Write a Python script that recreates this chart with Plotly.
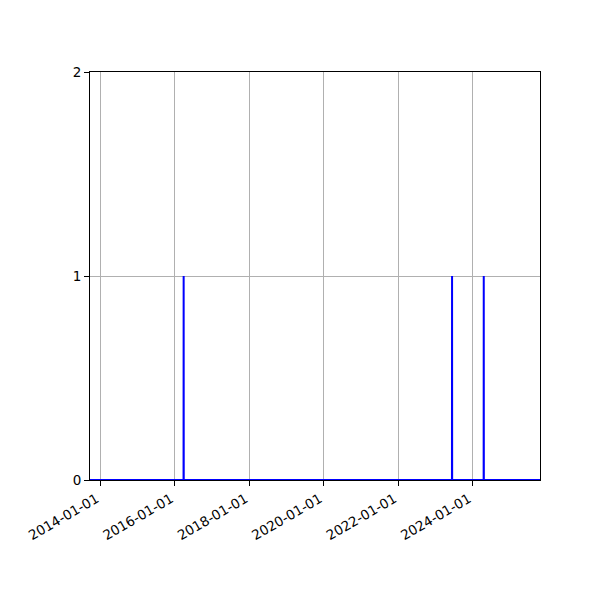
import plotly.graph_objects as go

# daily event counts (only the dates where the count changes are listed)
dates = [
    "2013-09-19", "2016-03-25", "2016-03-26", "2016-03-27",
    "2023-06-11", "2023-06-12", "2023-06-13",
    "2024-04-17", "2024-04-18", "2024-04-19", "2025-10-22",
]
counts = [0, 0, 1, 0, 0, 1, 0, 0, 1, 0, 0]

tick_dates = ["2014-01-01", "2016-01-01", "2018-01-01", "2020-01-01", "2022-01-01", "2024-01-01"]
y_ticks = [0, 1, 2]


def main():
    fig = go.Figure()

    fig.add_trace(go.Scatter(
        x=dates,
        y=counts,
        mode="lines",
        line=dict(color="#0000ff", width=2),
        showlegend=False,
    ))

    axis_common = dict(
        showline=True,
        linecolor="black",
        linewidth=1,
        mirror=True,
        ticks="outside",
        ticklen=5,
        tickcolor="black",
        showgrid=True,
        gridcolor="#b0b0b0",
        gridwidth=1,
        zeroline=False,
        tickfont=dict(family="DejaVu Sans", size=13.5, color="black"),
    )

    fig.update_xaxes(
        type="date",
        range=["2013-09-19", "2025-10-22"],
        tickmode="array",
        tickvals=tick_dates,
        ticktext=tick_dates,
        tickangle=-30,
        ticklabelshift=-4,
        **axis_common,
    )
    fig.update_yaxes(
        range=[0, 2],
        tickmode="array",
        tickvals=y_ticks,
        ticktext=[str(v) for v in y_ticks],
        **axis_common,
    )

    # page body adds 8px, so margins are shifted to land the plot area where the original is
    fig.update_layout(
        width=600,
        height=600,
        margin=dict(l=82, r=68, t=64, b=128),
        plot_bgcolor="white",
        paper_bgcolor="white",
    )

    fig.write_html("out.html")


if __name__ == "__main__":
    main()
